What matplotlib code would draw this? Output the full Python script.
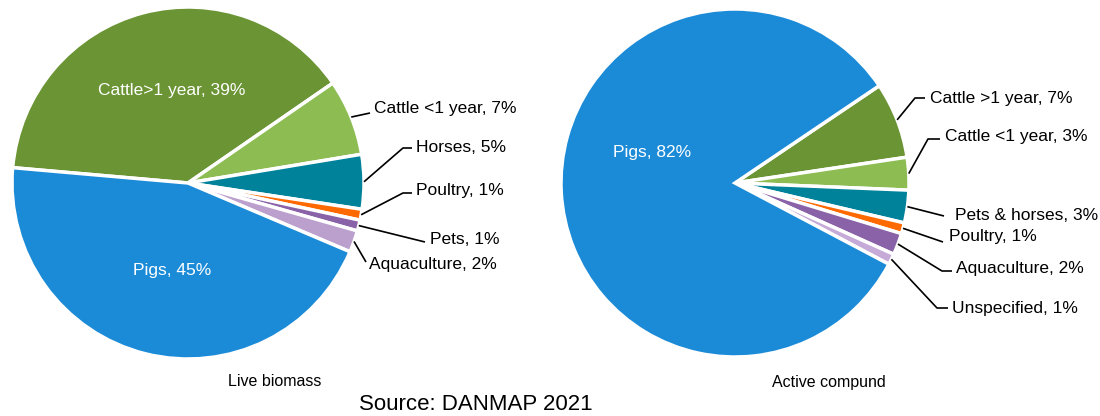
import numpy as np
import matplotlib.pyplot as plt

# Antimicrobial use by animal species, DANMAP 2021
biomass_labels = ['Cattle>1 year', 'Cattle <1 year', 'Horses', 'Poultry', 'Pets',
                  'Aquaculture', 'Pigs']
biomass_pct = [39, 7, 5, 1, 1, 2, 45]

compound_labels = ['Cattle >1 year', 'Cattle <1 year', 'Pets & horses', 'Poultry',
                   'Aquaculture', 'Unspecified', 'Pigs']
compound_pct = [7, 3, 3, 1, 2, 1, 82]

biomass_colors = ['#6b9434', '#8cbc52', '#00829a', '#ff6a00', '#8a62a8', '#bb9fcc', '#1b8bd8']
compound_colors = ['#6b9434', '#8cbc52', '#00829a', '#ff6a00', '#8a62a8', '#c6aad8', '#1b8bd8']

plt.rcParams['font.family'] = ['Liberation Sans', 'DejaVu Sans']
FS = 12.5

W, H = 1100, 416
fig = plt.figure(figsize=(11, 4.16), dpi=100)
ax = fig.add_axes([0, 0, 1, 1])
ax.axis('off')


def py(y):
    # figure pixels measured from the top
    return H - y


def draw_pie(values, colors, center, radius, start):
    wedges, _ = ax.pie(values, colors=colors, center=center, radius=radius,
                       startangle=start, counterclock=False, frame=True,
                       wedgeprops=dict(edgecolor='white', linewidth=2.5))
    return wedges


def leader(wedge, text, elbow, end, tx, ty):
    th = np.deg2rad((wedge.theta1 + wedge.theta2) / 2)
    cx, cy = wedge.center
    x0, y0 = cx + wedge.r * np.cos(th), cy + wedge.r * np.sin(th)
    xs = [x0] + [p[0] for p in elbow] + [end[0]]
    ys = [y0] + [py(p[1]) for p in elbow] + [py(end[1])]
    ax.plot(xs, ys, color='black', lw=1.2, solid_capstyle='butt')
    ax.text(tx, py(ty), text, ha='left', va='center', fontsize=FS)


# Live biomass
lw = draw_pie(biomass_pct, biomass_colors, (188, py(183)), 176, 175)
ax.text(172, py(90), f'{biomass_labels[0]}, {biomass_pct[0]}%', color='white',
        ha='center', va='center', fontsize=FS)
ax.text(172, py(270), f'{biomass_labels[6]}, {biomass_pct[6]}%', color='white',
        ha='center', va='center', fontsize=FS)
left_layout = [
    (1, [], (370, 113), 374, 108),
    (2, [(403, 148)], (412, 148), 416, 147),
    (3, [(403, 193)], (412, 193), 416, 191),
    (4, [], (425, 242), 430, 240),
    (5, [], (366, 262), 369, 264),
]
for i, elbow, end, tx, ty in left_layout:
    leader(lw[i], f'{biomass_labels[i]}, {biomass_pct[i]}%', elbow, end, tx, ty)

# Active compound
rw = draw_pie(compound_pct, compound_colors, (735, py(183)), 174, 34)
ax.text(652, py(153), f'{compound_labels[6]}, {compound_pct[6]}%', color='white',
        ha='center', va='center', fontsize=FS)
right_layout = [
    (0, [(915, 98)], (925, 98), 930, 98),
    (1, [(928, 139)], (940, 139), 945, 137),
    (2, [], (944, 216), 955, 215),
    (3, [], (943, 242), 949, 237),
    (4, [(942, 271)], (952, 271), 956, 268),
    (5, [(937, 308)], (948, 308), 952, 309),
]
for i, elbow, end, tx, ty in right_layout:
    leader(rw[i], f'{compound_labels[i]}, {compound_pct[i]}%', elbow, end, tx, ty)

ax.text(275, py(382), 'Live biomass', ha='center', va='center', fontsize=11.5)
ax.text(829, py(382), 'Active compund', ha='center', va='center', fontsize=11.5)
ax.text(476, py(404), 'Source: DANMAP 2021', ha='center', va='center', fontsize=16)

ax.set_xlim(0, W)
ax.set_ylim(0, H)
ax.set_aspect('equal')
fig.savefig('out.png', dpi=100)
